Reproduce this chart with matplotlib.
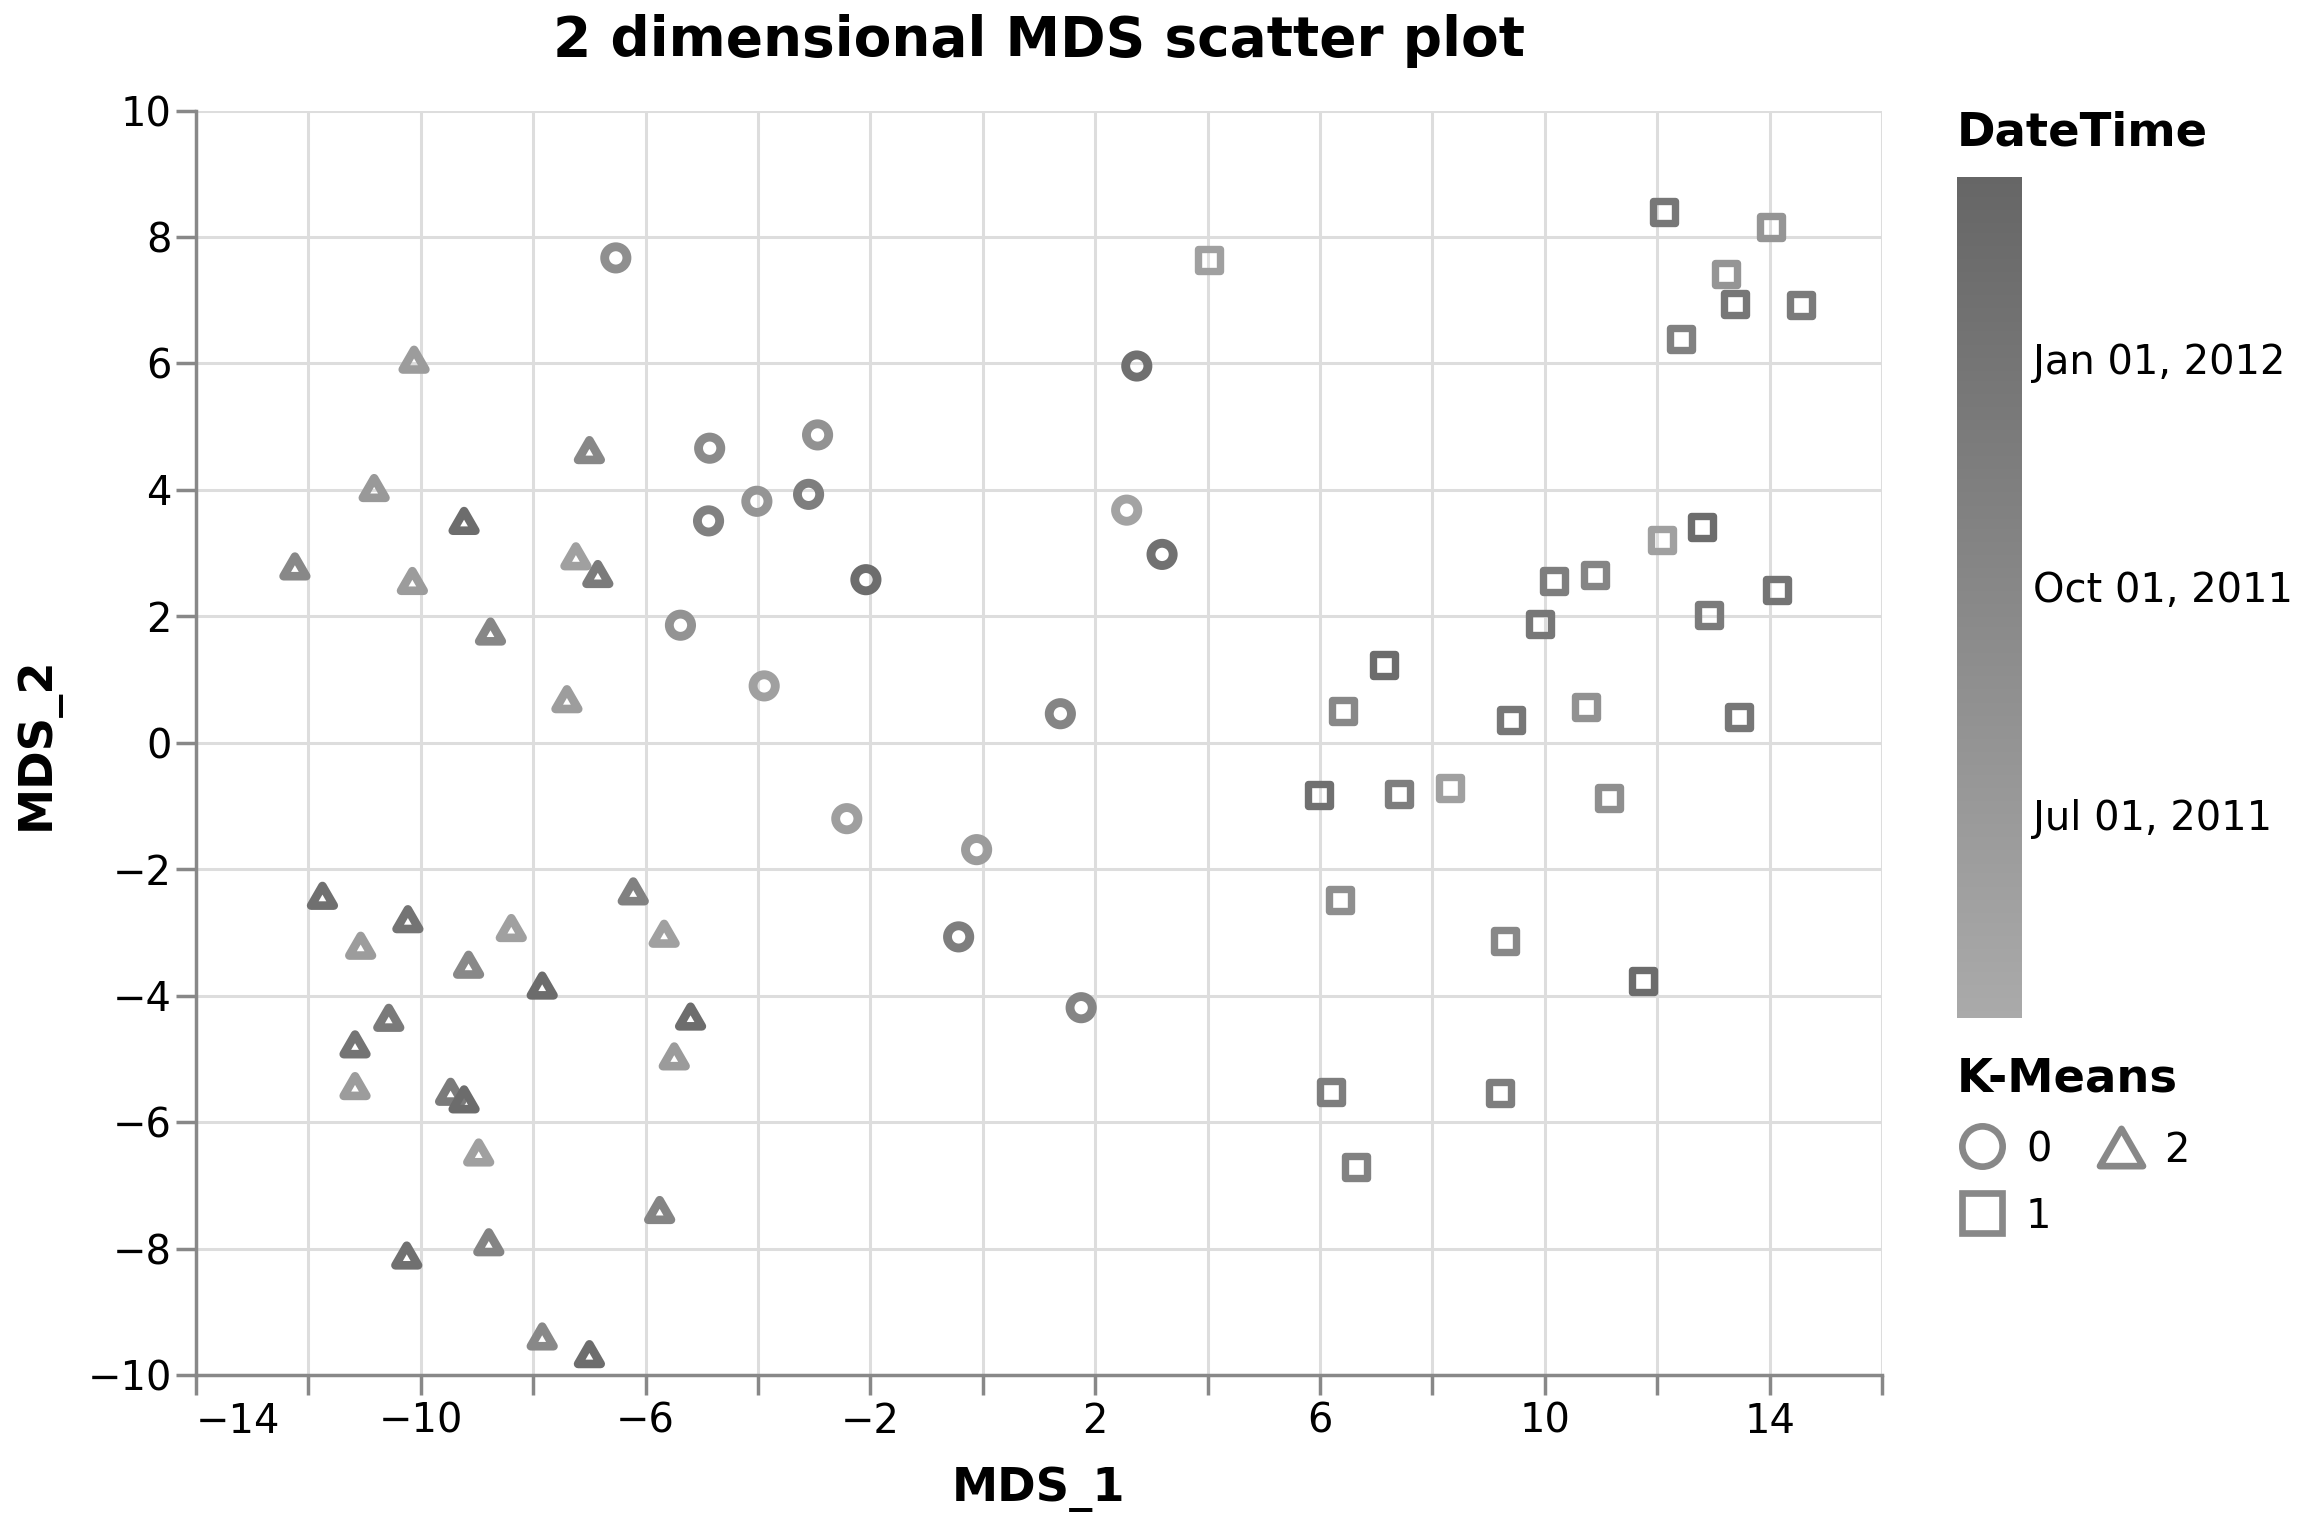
import numpy as np
import matplotlib
matplotlib.use("Agg")
import matplotlib.pyplot as plt
import matplotlib.dates as mdates
from matplotlib.colors import LinearSegmentedColormap, Normalize
from matplotlib.lines import Line2D
from matplotlib.markers import MarkerStyle
from matplotlib.path import Path

# K-Means cluster 0 (circles)
mds1_c0 = [-6.53, -4.86, -2.94, -4.02, -4.88, -3.10, -2.08, -5.38, -3.89,
           -2.42, -0.11, -0.43, 1.38, 1.75, 2.56, 2.74, 3.19]
mds2_c0 = [7.67, 4.66, 4.87, 3.82, 3.51, 3.93, 2.58, 1.86, 0.90,
           -1.20, -1.69, -3.07, 0.46, -4.19, 3.68, 5.96, 2.98]
date_c0 = ['2011-08-24', '2011-09-10', '2011-08-07', '2011-07-21', '2011-10-30',
           '2011-11-16', '2012-02-09', '2011-08-05', '2011-05-31', '2011-06-02',
           '2011-06-17', '2011-11-14', '2011-10-13', '2011-10-11', '2011-05-14',
           '2012-01-23', '2012-01-20']

# K-Means cluster 1 (squares)
mds1_c1 = [4.02, 12.12, 14.03, 13.22, 13.38, 14.56, 12.43, 12.09, 12.80, 10.89,
           10.16, 14.14, 12.93, 9.92, 7.14, 6.41, 9.40, 10.73, 13.46, 5.99,
           7.40, 8.32, 11.15, 6.36, 9.29, 11.75, 6.20, 9.21, 6.64]
mds2_c1 = [7.64, 8.39, 8.16, 7.41, 6.94, 6.92, 6.38, 3.21, 3.42, 2.65,
           2.56, 2.42, 2.02, 1.88, 1.23, 0.50, 0.36, 0.57, 0.41, -0.83,
           -0.81, -0.71, -0.88, -2.49, -3.14, -3.77, -5.52, -5.54, -6.71]
date_c1 = ['2011-05-31', '2011-12-20', '2011-07-21', '2011-07-24', '2011-12-18',
           '2011-12-03', '2011-10-30', '2011-05-29', '2012-02-09', '2011-10-13',
           '2011-11-16', '2012-01-06', '2011-12-03', '2011-12-20', '2012-02-11',
           '2011-09-27', '2011-12-22', '2011-08-07', '2011-12-19', '2012-01-23',
           '2011-11-16', '2011-05-31', '2011-08-24', '2011-08-22', '2011-09-27',
           '2012-02-10', '2011-11-15', '2011-11-17', '2011-10-28']

# K-Means cluster 2 (triangles)
mds1_c2 = [-12.24, -10.12, -10.83, -10.15, -9.23, -7.00, -7.24, -6.85, -8.76, -7.40,
           -11.75, -11.07, -10.23, -8.39, -9.15, -7.84, -10.57, -11.17, -11.17, -9.47,
           -9.23, -8.97, -6.22, -5.67, -5.20, -5.49, -5.75, -10.25, -8.79, -7.84, -7.00]
mds2_c2 = [2.79, 6.06, 4.03, 2.56, 3.51, 4.63, 2.95, 2.67, 1.76, 0.69,
           -2.42, -3.21, -2.79, -2.93, -3.51, -3.84, -4.35, -4.77, -5.43, -5.52,
           -5.64, -6.48, -2.35, -3.02, -4.33, -4.96, -7.39, -8.11, -7.90, -9.39, -9.67]
date_c2 = ['2011-09-27', '2011-06-17', '2011-07-04', '2011-06-20', '2012-02-09',
           '2011-09-25', '2011-05-31', '2011-12-03', '2011-09-30', '2011-06-15',
           '2012-01-23', '2011-06-18', '2012-01-06', '2011-05-28', '2011-09-26',
           '2012-02-10', '2011-12-05', '2012-01-05', '2011-06-19', '2011-12-01',
           '2012-02-12', '2011-05-30', '2011-10-30', '2011-06-01', '2012-02-08',
           '2011-06-22', '2011-10-13', '2012-01-22', '2011-10-15', '2011-09-28',
           '2012-02-07']

date_domain = ['2011-04-10', '2012-03-14']
date_ticks = ['2011-07-01', '2011-10-01', '2012-01-01']
kmeans_labels = ['0', '1', '2']

W, H = 2313, 1525

# vega style triangle-up (width 2r, height sqrt(3) r)
tri = Path([(0, 0.866), (-1, -0.866), (1, -0.866), (0, 0.866)],
           [Path.MOVETO, Path.LINETO, Path.LINETO, Path.CLOSEPOLY])
tri_marker = MarkerStyle(tri, joinstyle='miter')
sq_marker = MarkerStyle('s', joinstyle='miter')

cmap = LinearSegmentedColormap.from_list('grays', ['#aaaaaa', '#666666'])
to_num = lambda d: mdates.date2num(np.array(d, dtype='datetime64[D]'))
norm = Normalize(vmin=to_num(date_domain[0]), vmax=to_num(date_domain[1]))

fig = plt.figure(figsize=(W / 100, H / 100), dpi=100)
ax = fig.add_axes([196 / W, 1 - 1375 / H, 1686 / W, 1264.4 / H])

ax.scatter(mds1_c0, mds2_c0, s=16.0 ** 2, marker='o', facecolors='none',
           edgecolors=cmap(norm(to_num(date_c0))), linewidths=6.4, zorder=3)
ax.scatter(mds1_c1, mds2_c1, s=15.8 ** 2, marker=sq_marker, facecolors='none',
           edgecolors=cmap(norm(to_num(date_c1))), linewidths=5.3, zorder=3)
ax.scatter(mds1_c2, mds2_c2, s=16.3 ** 2, marker=tri_marker, facecolors='none',
           edgecolors=cmap(norm(to_num(date_c2))), linewidths=6.2, zorder=3)

ax.set_xlim(-14, 16)
ax.set_ylim(-10, 10)
fmt = lambda v: ('\u2212' + str(-v)) if v < 0 else str(v)
xt = np.arange(-14, 17, 2)
ax.set_xticks(xt)
ax.set_xticklabels([fmt(v) if (v + 14) % 4 == 0 else '' for v in xt])
yt = np.arange(-10, 11, 2)
ax.set_yticks(yt)
ax.set_yticklabels([fmt(v) for v in yt])
ax.get_xticklabels()[0].set_horizontalalignment('left')

ax.grid(True, color='#dddddd', linewidth=2.2, zorder=0)
ax.set_axisbelow(True)
for side in ['top', 'right']:
    ax.spines[side].set_visible(False)
for side in ['left', 'bottom']:
    ax.spines[side].set_color('#888888')
    ax.spines[side].set_linewidth(2.5)
ax.tick_params(axis='both', length=14.4, width=2.5, color='#888888',
               labelsize=28.8, labelcolor='black')
ax.tick_params(axis='x', pad=5)
ax.tick_params(axis='y', pad=3)

ax.set_xlabel('MDS_1', fontsize=33.4, fontweight='bold', labelpad=18)
ax.set_ylabel('MDS_2', fontsize=33.4, fontweight='bold', labelpad=20)
fig.text(704.5 * 1.475 / W, 1 - 41 / H, '2 dimensional MDS scatter plot',
         fontsize=39.5, fontweight='bold', ha='center', va='center')

# DateTime gradient legend
cax = fig.add_axes([1957 / W, 1 - 1018 / H, 65 / W, 841 / H])
sm = plt.cm.ScalarMappable(norm=norm, cmap=cmap)
cb = fig.colorbar(sm, cax=cax)
cb.outline.set_visible(False)
cb.set_ticks(to_num(date_ticks))
cb.set_ticklabels([mdates.num2date(v).strftime('%b %d, %Y') for v in to_num(date_ticks)])
cax.tick_params(length=0, labelsize=28.8, pad=8)
fig.text(1957 / W, 1 - 145 / H, 'DateTime', fontsize=33.5, fontweight='bold',
         ha='left', va='baseline')

# K-Means shape legend
gray = '#888888'
fig.text(1957 / W, 1 - 1092 / H, 'K-Means', fontsize=33.5, fontweight='bold',
         ha='left', va='baseline')
legend_items = [
    (kmeans_labels[0], 'o', 29, 1982, 1146, 2026),
    (kmeans_labels[1], sq_marker, 28.5, 1982, 1213, 2026),
    (kmeans_labels[2], tri_marker, 31, 2121, 1147, 2164),
]
for lab, mk, ms, px, py, tx in legend_items:
    fig.add_artist(Line2D([px / W], [1 - py / H], transform=fig.transFigure,
                          linestyle='none', marker=mk, markersize=ms,
                          markerfacecolor='none', markeredgecolor=gray,
                          markeredgewidth=4.8))
    fig.text(tx / W, 1 - py / H, lab, fontsize=28.8, ha='left', va='center_baseline')

fig.savefig('out.png', dpi=100)
